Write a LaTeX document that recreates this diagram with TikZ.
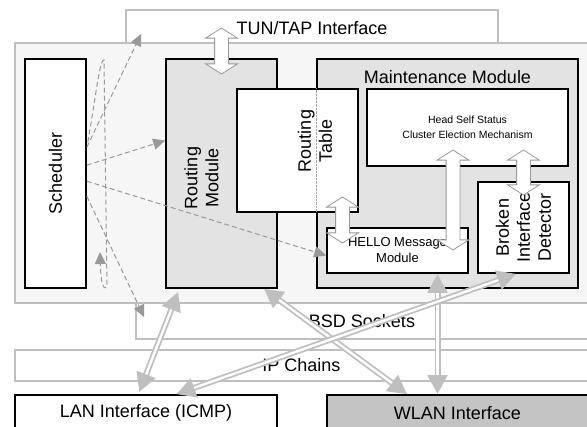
\documentclass[tikz,border=0pt]{standalone}
\usepackage{fontspec}
\setmainfont{Liberation Sans}
\usetikzlibrary{arrows.meta,shapes.arrows,calc}
\definecolor{lgray}{gray}{0.75}
\definecolor{dgray}{gray}{0.6}
\definecolor{hatch}{gray}{0.89}
\definecolor{dotbg}{gray}{0.965}
\definecolor{wlanfill}{gray}{0.77}
\begin{document}
\begin{tikzpicture}[x=1pt,y=-1pt,
    font=\fontsize{18}{21}\selectfont,
    layer/.style={draw=lgray,line width=1.8pt,fill=white,inner sep=0pt},
    blk/.style={draw=black,line width=1.6pt,fill=white,inner sep=0pt},
    barrow/.style={double arrow,draw=dgray,fill=white,line width=0.8pt,rotate=90,
        inner xsep=0pt,inner ysep=6.5pt,double arrow head extend=9pt,double arrow tip angle=115},
    dline/.style={draw=lgray,line width=6pt,
        arrows={Triangle[length=19pt 0 0,width=19pt 0 0]-Triangle[length=19pt 0 0,width=19pt 0 0]},
        postaction={draw=white,line width=2.4pt,arrows=-,shorten <=19pt,shorten >=19pt}},
    schedarrow/.style={draw=dgray,line width=1pt,dash pattern=on 5pt off 3pt,
        -{Triangle[length=12pt,width=11pt]}}]
    \useasboundingbox (0,0) rectangle (587,427);
    \node[layer,minimum width=372pt,minimum height=36pt] (tun) at (312,28) {TUN/TAP Interface};
    \node[layer,minimum width=452pt,minimum height=36pt] (bsd) at (362,321) {BSD Sockets};
    \node[layer,fill=dotbg,minimum width=575pt,minimum height=260pt] (main) at (302.5,173) {};
    \node[layer,minimum width=573pt,minimum height=31pt] (ipc) at (301.5,365.5) {IP Chains};
    \node[blk,minimum width=262pt,minimum height=36pt] (lan) at (146,413) {LAN Interface (ICMP)};
    \node[blk,fill=wlanfill,minimum width=261pt,minimum height=36pt] (wlan) at (457.5,413) {WLAN Interface};

    \node[blk,minimum width=61pt,minimum height=229pt] (sched) at (55.5,173.5) {};
    \node[rotate=90] (schedtxt) at (sched) {Scheduler};
    \node[blk,fill=hatch,minimum width=111pt,minimum height=229pt] (rm) at (221.5,173.5) {};
    \node[rotate=90,align=center] (rmtxt) at ($(rm)+(-20,4.5)$) {Routing\\Module};
    \node[blk,fill=hatch,minimum width=261pt,minimum height=229pt] (mm) at (447.5,173.5) {};
    \node (mmtxt) at ($(mm.north)+(0,19)$) {Maintenance Module};
    \node[blk,minimum width=121pt,minimum height=123pt] (rt) at (297.5,150.5) {};
    \draw[densely dotted,gray!70] (rt.north -| mm.west) -- (rt.south -| mm.west);
    \node[rotate=90,align=center] (rttxt) at ($(rt)+(17.5,-9.5)$) {Routing\\Table};
    \node[blk,minimum width=201pt,minimum height=77pt,align=center,
        font=\fontsize{10.5}{14.5}\selectfont] (hs) at (467.5,127.5) {Head Self Status\\Cluster Election Mechanism};
    \node[blk,minimum width=141pt,minimum height=45pt,align=center,
        font=\fontsize{13}{16}\selectfont] (hello) at (397.5,250.5) {HELLO Message\\Module};
    \node[blk,minimum width=91pt,minimum height=91pt] (bid) at (523.5,227.5) {};
    \node[rotate=90,align=center] (bidtxt) at (bid) {Broken\\Interface\\Detector};

    \draw[schedarrow] ($(sched.north east)+(0,89)$) -- ([xshift=16pt,yshift=13pt]tun.south west);
    \draw[schedarrow] ($(sched.north east)+(0,107)$) -- ([yshift=33pt]rm.west);
    \draw[schedarrow] ($(sched.north east)+(0,123)$) -- ([yshift=-5pt]hello.west);
    \draw[schedarrow] ($(sched.north east)+(0,138)$) -- ([xshift=9pt,yshift=-15pt]bsd.north west);
    \draw[schedarrow] ($(sched.north east)+(1,84)$) .. controls (96,95) and (100,58) .. (104,60)
        -- (107,286) .. controls (105,290) and (101,289) .. (100,252);

    \node[barrow,minimum height=46pt] (tunrm) at (221.5,51) {};
    \node[barrow,minimum height=46pt] (rthello) at (342.5,220) {};
    \node[barrow,minimum height=100pt] (hshello) at (453,200) {};
    \node[barrow,minimum height=45pt] (hsbid) at (523.5,172.5) {};

    \draw[dline] ([xshift=13pt,yshift=-3pt]rm.south west) -- ([xshift=125pt,yshift=2pt]lan.north west);
    \draw[dline] ([xshift=-14pt]rm.south east) -- ([xshift=81pt]wlan.north west);
    \draw[dline] ([xshift=40pt]hello.south) -- ([xshift=-20pt]wlan.north);
    \draw[dline] ([xshift=162pt]lan.north west) -- ([xshift=39pt]bid.south west);
\end{tikzpicture}
\end{document}
